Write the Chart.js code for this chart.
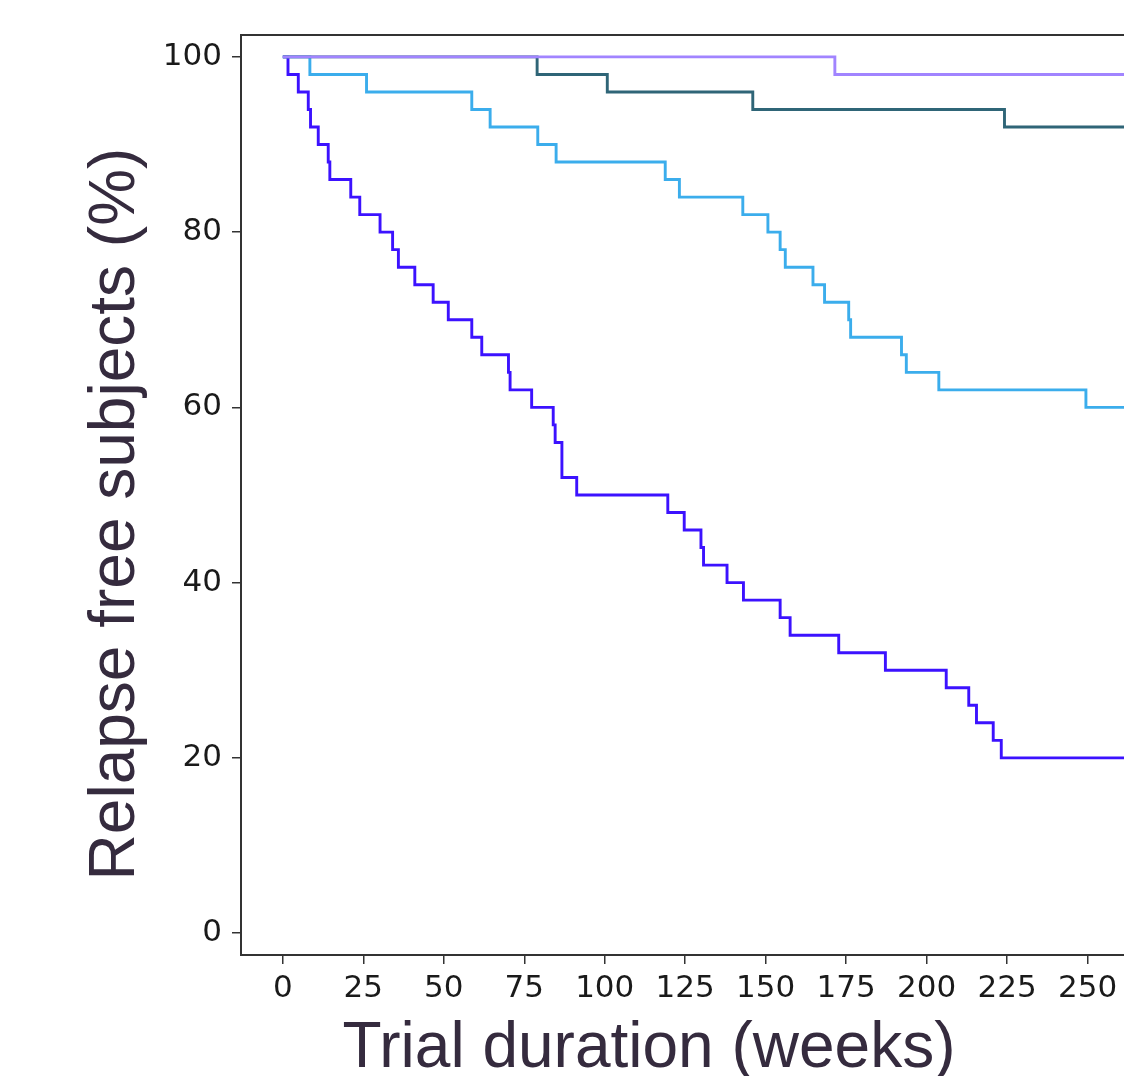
<!DOCTYPE html>
<html>
<head>
<meta charset="utf-8">
<script src="https://cdn.jsdelivr.net/npm/chart.js@4"></script>
<style>
    html, body { margin: 0; padding: 0; background: #fff; overflow: hidden; }
    #wrap { width: 1168px; height: 1076px; position: relative; }
</style>
</head>
<body>
<div id="wrap"><canvas id="kmChart"></canvas></div>
<script>
// Curvas de supervivencia (semanas, % libre de recaída)
const blueWeeks = [0, 1.6, 4.8, 7.9, 8.6, 11, 14.1, 14.6, 21.1, 23.9, 30.2, 34.1, 35.9, 41, 46.7, 51.4, 58.7, 61.8, 70.1, 70.6, 77.3, 84, 84.6, 86.7, 91.3, 119.6, 124.7, 129.9, 130.7, 138, 143.1, 154.5, 157.6, 172.7, 187.2, 206.1, 213.1, 215.5, 220.7, 223.2, 275];
const blueFree = [100, 98, 96, 94, 92, 90, 88, 86, 84, 82, 80, 78, 76, 74, 72, 70, 68, 66, 64, 62, 60, 58, 56, 52, 50, 48, 46, 44, 42, 40, 38, 36, 34, 32, 30, 28, 26, 24, 22, 20, 20];

const skyWeeks = [0, 8.4, 26, 58.7, 64.4, 79.2, 84.9, 118.8, 123.2, 142.9, 150.7, 154.5, 156.1, 164.7, 168.3, 175.8, 176.4, 192.2, 193.7, 203.8, 249.5, 275];
const skyFree = [100, 98, 96, 94, 92, 90, 88, 86, 84, 82, 80, 78, 76, 74, 72, 70, 68, 66, 64, 62, 60, 60];

const tealWeeks = [0, 79, 100.8, 146, 224.2, 275];
const tealFree = [100, 98, 96, 94, 92, 92];

const purpleWeeks = [0, 171.5, 275];
const purpleFree = [100, 98, 98];

const xTicks = [0, 25, 50, 75, 100, 125, 150, 175, 200, 225, 250];
const yTicks = [0, 20, 40, 60, 80, 100];

const toPoints = (xs, ys) => xs.map((x, i) => ({ x: x, y: ys[i] }));

// Marco superior del área de gráfico
const framePlugin = {
    id: 'frame',
    afterDraw(chart) {
        const { ctx, chartArea } = chart;
        ctx.save();
        ctx.strokeStyle = '#333';
        ctx.lineWidth = 2;
        ctx.beginPath();
        ctx.moveTo(chartArea.left, chartArea.top);
        ctx.lineTo(chartArea.right, chartArea.top);
        ctx.lineTo(chartArea.right, chartArea.bottom);
        ctx.stroke();
        ctx.restore();
    }
};

// Títulos de ejes
const titlesPlugin = {
    id: 'axisTitles',
    afterDraw(chart) {
        const ctx = chart.ctx;
        ctx.save();
        ctx.fillStyle = '#352b3e';
        ctx.font = '64px "Liberation Sans", Arial, sans-serif';
        ctx.textAlign = 'center';
        ctx.textBaseline = 'alphabetic';
        ctx.fillText('Trial duration (weeks)', 649, 1067);
        ctx.translate(134, 514);
        ctx.rotate(-Math.PI / 2);
        ctx.fillText('Relapse free subjects (%)', 0, 0);
        ctx.restore();
    }
};

const lineStyle = { borderWidth: 2.9, pointRadius: 0, stepped: 'before', fill: false };

new Chart(document.getElementById('kmChart'), {
    type: 'line',
    data: {
        datasets: [
            { label: 'purple', data: toPoints(purpleWeeks, purpleFree), borderColor: '#a184ff', ...lineStyle },
            { label: 'teal', data: toPoints(tealWeeks, tealFree), borderColor: '#2f6577', ...lineStyle },
            { label: 'sky', data: toPoints(skyWeeks, skyFree), borderColor: '#3badec', ...lineStyle },
            { label: 'blue', data: toPoints(blueWeeks, blueFree), borderColor: '#3c12ff', ...lineStyle }
        ]
    },
    options: {
        responsive: true,
        maintainAspectRatio: false,
        animation: false,
        layout: { padding: { top: 35, left: 0, right: 0, bottom: 0 } },
        plugins: {
            legend: { display: false },
            tooltip: { enabled: false }
        },
        scales: {
            x: {
                type: 'linear',
                min: -13,
                max: 275,
                afterBuildTicks: s => { s.ticks = xTicks.map(v => ({ value: v })); },
                afterFit: s => { s.height = 121; },
                grid: { drawOnChartArea: false, tickLength: 9, color: '#333', lineWidth: 1.5 },
                border: { display: true, color: '#333', width: 2 },
                ticks: { color: '#1a1a1a', padding: 6, maxRotation: 0, font: { family: '"DejaVu Sans"', size: 31 } }
            },
            y: {
                type: 'linear',
                min: -2.5,
                max: 102.5,
                afterBuildTicks: s => { s.ticks = yTicks.map(v => ({ value: v })); },
                afterFit: s => { s.width = 241; },
                grid: { drawOnChartArea: false, tickLength: 9, color: '#333', lineWidth: 1.5 },
                border: { display: true, color: '#333', width: 2 },
                ticks: { color: '#1a1a1a', padding: 10, font: { family: '"DejaVu Sans"', size: 31 } }
            }
        }
    },
    plugins: [framePlugin, titlesPlugin]
});
</script>
</body>
</html>
